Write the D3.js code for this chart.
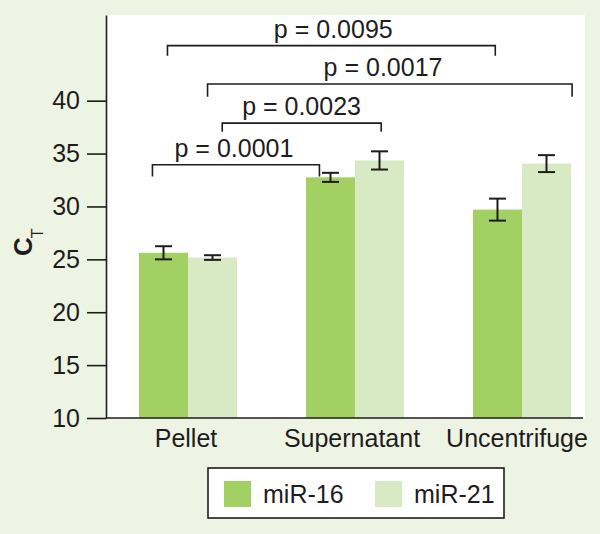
<!DOCTYPE html>
<html>
<head>
<meta charset="utf-8">
<script src="https://cdn.jsdelivr.net/npm/d3@7"></script>
<style>
  html, body { margin: 0; padding: 0; background: #eef4e4; }
  svg { display: block; }
  text { font-family: "Liberation Sans", Arial, Helvetica, sans-serif; fill: #1f1c1d; }
</style>
</head>
<body>
<svg id="chart" width="600" height="534"></svg>
<script>
// ---- data ----
const categories = ["Pellet", "Supernatant", "Uncentrifuge"];
const seriesNames = ["miR-16", "miR-21"];
const mir16 = [25.62, 32.75, 29.7];
const mir21 = [25.17, 34.35, 34.05];
const err16 = [0.62, 0.43, 1.04];
const err21 = [0.22, 0.86, 0.8];
const yTicks = [10, 15, 20, 25, 30, 35, 40];
// brackets: position in group units (0 = Pellet centre, 1 = Supernatant, 2 = Uncentrifuge)
const pLabels   = ["p = 0.0095", "p = 0.0017", "p = 0.0023", "p = 0.0001"];
const bracketX1 = [-0.123, 0.117, 0.205, -0.213];
const bracketX2 = [1.84, 2.30, 1.157, 0.787];
const bracketY  = [45.2, 41.57, 37.88, 33.94];
const bracketDrop = [44.25, 40.37, 37.06, 32.83];
const labelX = [0.87, 1.168, 0.68, 0.275];
const labelY = [45.95, 42.29, 38.67, 34.72];

// ---- layout ----
const W = 600, H = 534;
const plot = { left: 106, right: 585, top: 15, bottom: 418, axisRight: 583 };
const colors = { "miR-16": "#a2d063", "miR-21": "#d7eac3" };
const ink = "#1f1c1d";
const fontSize = 25;

const svg = d3.select("#chart");
svg.append("rect").attr("width", W).attr("height", H).attr("fill", "#eef4e4");
svg.append("rect")
  .attr("x", plot.left).attr("y", plot.top)
  .attr("width", plot.right - plot.left).attr("height", plot.bottom - plot.top)
  .attr("fill", "#ffffff");

const x = d3.scaleBand().domain(categories).range([139, 571]).paddingInner(0.413).paddingOuter(0);
const xs = d3.scaleBand().domain(seriesNames).range([0, x.bandwidth()]).padding(0);
const y = d3.scaleLinear().domain([10, 48.1]).range([plot.bottom, plot.top]);
const centre = c => x(c) + x.bandwidth() / 2;
const gx = d3.scaleLinear().domain([0, 2]).range([centre(categories[0]), centre(categories[2])]);

// bars
const rows = [];
categories.forEach((c, i) => {
  rows.push({ cat: c, s: "miR-16", v: mir16[i], e: err16[i] });
  rows.push({ cat: c, s: "miR-21", v: mir21[i], e: err21[i] });
});
svg.append("g").selectAll("rect").data(rows).join("rect")
  .attr("x", d => x(d.cat) + xs(d.s))
  .attr("y", d => y(d.v))
  .attr("width", xs.bandwidth())
  .attr("height", d => y(10) - y(d.v))
  .attr("fill", d => colors[d.s]);

// error bars
const eg = svg.append("g").attr("stroke", ink).attr("stroke-width", 2).attr("fill", "none");
const capW = 8.5;
rows.forEach(d => {
  const cx = x(d.cat) + xs(d.s) + xs.bandwidth() / 2;
  eg.append("line").attr("x1", cx).attr("x2", cx).attr("y1", y(d.v + d.e)).attr("y2", y(d.v - d.e));
  eg.append("line").attr("x1", cx - capW).attr("x2", cx + capW).attr("y1", y(d.v + d.e)).attr("y2", y(d.v + d.e));
  eg.append("line").attr("x1", cx - capW).attr("x2", cx + capW).attr("y1", y(d.v - d.e)).attr("y2", y(d.v - d.e));
});

// y axis
const yAxis = d3.axisLeft(y).tickValues(yTicks).tickSize(19).tickSizeOuter(0).tickPadding(7);
const ya = svg.append("g").attr("transform", `translate(${plot.left},0)`).call(yAxis);
ya.select(".domain").attr("stroke", ink).attr("stroke-width", 1.6);
ya.selectAll(".tick line").attr("stroke", ink).attr("stroke-width", 1.6);
ya.selectAll(".tick text").attr("font-size", fontSize).attr("fill", ink)
  .style("font-family", '"Liberation Sans", Arial, sans-serif');

// x axis line
svg.append("line").attr("x1", plot.left).attr("x2", plot.axisRight)
  .attr("y1", plot.bottom).attr("y2", plot.bottom)
  .attr("stroke", ink).attr("stroke-width", 1.6);

// category labels
svg.append("g").selectAll("text").data(categories).join("text")
  .attr("x", (c, i) => centre(c) - (i === 2 ? 5 : 0) - (i === 0 ? 2 : 0) - (i === 1 ? 3 : 0))
  .attr("y", 447)
  .attr("text-anchor", "middle")
  .attr("font-size", fontSize)
  .text(d => d);

// y label C_T
const yl = svg.append("text")
  .attr("transform", "translate(32,256) rotate(-90)")
  .attr("font-size", 26).attr("font-weight", "bold");
yl.append("tspan").text("C");
yl.append("tspan").attr("font-size", 16).attr("font-weight", "normal").attr("dy", 11).attr("dx", -1).text("T");

// brackets
const bg = svg.append("g").attr("stroke", ink).attr("stroke-width", 1.6).attr("fill", "none");
pLabels.forEach((lab, i) => {
  const x1 = gx(bracketX1[i]), x2 = gx(bracketX2[i]);
  const yb = y(bracketY[i]), yd = y(bracketDrop[i]);
  bg.append("path").attr("d", `M${x1},${yd}V${yb}H${x2}V${yd}`);
  svg.append("text")
    .attr("x", gx(labelX[i])).attr("y", y(labelY[i]))
    .attr("text-anchor", "middle").attr("font-size", fontSize)
    .text(lab);
});

// legend
const lg = svg.append("g");
lg.append("rect").attr("x", 208).attr("y", 468).attr("width", 296).attr("height", 50)
  .attr("fill", "#ffffff").attr("stroke", ink).attr("stroke-width", 1.6);
const legX = [224, 375];
seriesNames.forEach((s, i) => {
  lg.append("rect").attr("x", legX[i]).attr("y", 481).attr("width", 27).attr("height", 26).attr("fill", colors[s]);
  lg.append("text").attr("x", legX[i] + 39).attr("y", 503).attr("font-size", fontSize).text(s);
});
</script>
</body>
</html>
